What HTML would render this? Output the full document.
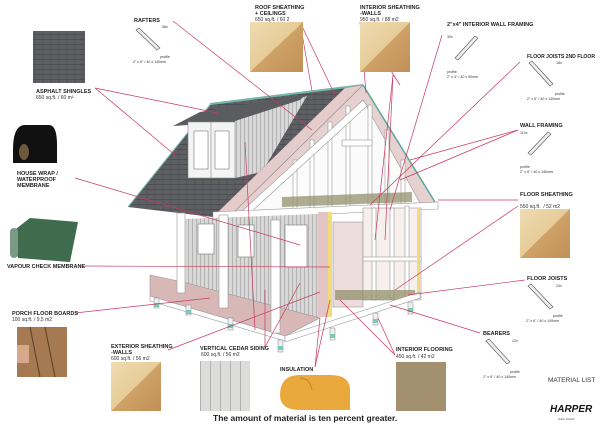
<!DOCTYPE html>
<html><head><meta charset="utf-8"><style>
html,body{margin:0;padding:0;background:#fff;}
svg{display:block;font-family:"Liberation Sans",Arial,sans-serif;}
.b{font-weight:bold;font-size:5.5px;fill:#222;}
.s{font-size:5px;fill:#333;}
.t{font-size:3.6px;fill:#333;}
.l{stroke:#c83a5e;stroke-width:0.7;fill:none;}
</style></head><body>
<svg width="600" height="429" viewBox="0 0 600 429" xmlns="http://www.w3.org/2000/svg">
<defs>
<linearGradient id="ply" x1="0" y1="0" x2="1" y2="1"><stop offset="0" stop-color="#efdcb2"/><stop offset="0.5" stop-color="#e6cc98"/><stop offset="0.5" stop-color="#cfa268"/><stop offset="1" stop-color="#c08f56"/></linearGradient>
<pattern id="sid" width="4" height="10" patternUnits="userSpaceOnUse"><rect width="4" height="10" fill="#d8d8d8"/><line x1="0.5" y1="0" x2="0.5" y2="10" stroke="#9a9a9a" stroke-width="0.6"/></pattern>
<pattern id="shg" width="8" height="5" patternUnits="userSpaceOnUse"><rect width="8" height="5" fill="#5d5f62"/><line x1="0" y1="4.5" x2="8" y2="4.5" stroke="#46484b" stroke-width="0.7"/><line x1="3" y1="0" x2="3" y2="4.5" stroke="#4a4c4f" stroke-width="0.5"/></pattern>
<pattern id="ced" width="10" height="50" patternUnits="userSpaceOnUse"><rect width="10" height="50" fill="#dcdcda"/><line x1="0.5" y1="0" x2="0.5" y2="50" stroke="#a8a8a6" stroke-width="0.8"/></pattern>
</defs>

<!-- HOUSE -->
<polygon points="210,105 345,88 213,217 128,207" fill="url(#shg)"/>
<line x1="210" y1="104" x2="363" y2="85" stroke="#6fb5a8" stroke-width="2"/>
<line x1="128" y1="207" x2="210" y2="105" stroke="#6fb5a8" stroke-width="1"/>
<!-- dormer -->
<polygon points="235,120 307,96 262,172 235,178" fill="url(#sid)"/>
<polygon points="173,126 200,112 305,95 300,100 232,122" fill="#5a5c5f"/>
<rect x="188" y="122" width="47" height="56" fill="#f4f4f4" stroke="#888" stroke-width="0.6"/>
<rect x="194" y="131" width="14" height="38" fill="#fff" stroke="#777" stroke-width="0.6"/>
<rect x="215" y="131" width="14" height="38" fill="#fff" stroke="#777" stroke-width="0.6"/>
<line x1="211" y1="122" x2="211" y2="178" stroke="#888" stroke-width="0.6"/>
<!-- pink strip -->
<polygon points="345,88 363,85 232,215 213,217" fill="#e4cccc" stroke="#b99" stroke-width="0.5"/>
<!-- gable -->
<polygon points="363,85 438,207 232,214" fill="#e6d0d0" stroke="#888" stroke-width="0.6"/>
<polygon points="363,100 420,203 248,211" fill="#fbfbfb" stroke="#999" stroke-width="0.6"/>
<line x1="363" y1="85" x2="438" y2="207" stroke="#5aa898" stroke-width="1.5"/>
<g stroke="#999" stroke-width="0.6" fill="#fff">
<rect x="293" y="160" width="4" height="50"/><rect x="310" y="140" width="4" height="70"/><rect x="328" y="122" width="4" height="88"/><rect x="346" y="106" width="4" height="103"/><rect x="368" y="105" width="4" height="103"/><rect x="385" y="130" width="4" height="78"/><rect x="401" y="160" width="4" height="45"/>
<rect x="342" y="140" width="30" height="6"/>
<polygon points="240,213 363,100 367,106 250,213"/>
</g>
<polygon points="282,197 412,192 412,202 282,207" fill="#8c8a62" opacity="0.7"/>
<polygon points="213,212 438,202 438,209 213,219" fill="#fff" stroke="#999" stroke-width="0.6"/>
<!-- left side wall -->
<polygon points="183,219 318,214 318,318 183,292" fill="url(#sid)"/>
<rect x="198" y="224" width="16" height="30" fill="#fff" stroke="#777" stroke-width="0.6"/>
<rect x="238" y="225" width="16" height="32" fill="#fff" stroke="#777" stroke-width="0.6"/>
<rect x="285" y="225" width="22" height="42" fill="#fff" stroke="#777" stroke-width="0.6"/>
<!-- front wall -->
<rect x="318" y="212" width="10" height="105" fill="#e2c6c6"/>
<rect x="328" y="212" width="4" height="105" fill="#f2dc7a"/>
<rect x="333" y="222" width="30" height="85" fill="#ecdcdc" stroke="#999" stroke-width="0.6"/>
<rect x="363" y="208" width="58" height="92" fill="#f7eeee" stroke="#999" stroke-width="0.6"/>
<g stroke="#999" stroke-width="0.6" fill="#fff">
<rect x="372" y="208" width="4" height="92"/><rect x="390" y="208" width="4" height="90"/><rect x="405" y="206" width="4" height="92"/>
<rect x="363" y="257" width="58" height="4"/>
</g>
<rect x="417" y="208" width="3" height="90" fill="#f2dc7a"/>
<rect x="335" y="290" width="80" height="10" fill="#8c8a62" opacity="0.7"/>
<!-- porch deck -->
<polygon points="150,275 183,282 320,318 285,336 150,296" fill="#d8b7b7" stroke="#999" stroke-width="0.6"/>
<polygon points="150,296 285,336 285,341 150,301" fill="#fff" stroke="#999" stroke-width="0.6"/>
<polygon points="285,336 420,292 420,298 285,342" fill="#fff" stroke="#999" stroke-width="0.6"/>
<g fill="#fff" stroke="#999" stroke-width="0.6">
<rect x="177" y="213" width="8" height="80"/><rect x="219" y="215" width="9" height="93"/><rect x="271" y="220" width="9" height="113"/>
</g>
<g fill="#eee" stroke="#888" stroke-width="0.5">
<rect x="154" y="298" width="5" height="10"/><rect x="186" y="305" width="5" height="10"/><rect x="228" y="318" width="5" height="12"/><rect x="278" y="340" width="5" height="12"/><rect x="330" y="328" width="5" height="12"/><rect x="373" y="313" width="5" height="12"/><rect x="408" y="302" width="5" height="12"/>
</g>
<g fill="#7cc7b8"><rect x="154" y="303" width="5" height="4"/><rect x="186" y="310" width="5" height="4"/><rect x="228" y="324" width="5" height="4"/><rect x="278" y="346" width="5" height="4"/><rect x="330" y="334" width="5" height="4"/><rect x="373" y="319" width="5" height="4"/><rect x="408" y="308" width="5" height="4"/></g>

<!-- LEADER LINES -->
<g class="l">
<line x1="95" y1="88" x2="218" y2="113"/><line x1="95" y1="88" x2="175" y2="155"/>
<line x1="173" y1="21" x2="312" y2="130"/>
<line x1="300" y1="22" x2="335" y2="95"/><line x1="300" y1="22" x2="312" y2="91"/>
<line x1="360" y1="22" x2="366" y2="93"/><line x1="360" y1="22" x2="400" y2="85"/>
<line x1="393" y1="75" x2="375" y2="240"/><line x1="393" y1="75" x2="385" y2="240"/>
<line x1="442" y1="35" x2="390" y2="210"/>
<line x1="520" y1="62" x2="370" y2="205"/>
<line x1="518" y1="130" x2="410" y2="160"/><line x1="518" y1="130" x2="400" y2="180"/>
<line x1="518" y1="200" x2="438" y2="200"/><line x1="518" y1="206" x2="395" y2="290"/>
<line x1="525" y1="280" x2="408" y2="295"/>
<line x1="480" y1="333" x2="390" y2="305"/>
<line x1="395" y1="355" x2="340" y2="300"/><line x1="395" y1="355" x2="378" y2="318"/>
<line x1="315" y1="367" x2="330" y2="300"/><line x1="315" y1="367" x2="320" y2="318"/>
<line x1="265" y1="347" x2="265" y2="290"/><line x1="265" y1="347" x2="300" y2="283"/>
<line x1="168" y1="350" x2="320" y2="292"/>
<line x1="75" y1="313" x2="210" y2="298"/>
<line x1="80" y1="266" x2="330" y2="267"/>
<line x1="75" y1="178" x2="300" y2="245"/>
<line x1="245" y1="142" x2="255" y2="330"/>
</g>

<!-- SWATCHES -->
<rect x="33" y="31" width="52" height="52" fill="url(#shg)"/>
<path d="M13,150 q0,-25 12,-25 h24 q8,0 8,20 v18 h-44z" fill="#111"/>
<ellipse cx="24" cy="152" rx="5" ry="8" fill="#6e5a3e"/>
<polygon points="12,232 30,218 78,222 70,262 18,258" fill="#3e6c4c"/>
<rect x="10" y="228" width="8" height="30" rx="4" fill="#7a9a86"/>
<rect x="17" y="327" width="50" height="50" fill="#a57a52"/>
<g stroke="#5a3e26" stroke-width="1"><line x1="30" y1="327" x2="40" y2="377"/><line x1="45" y1="327" x2="55" y2="377"/></g>
<rect x="17" y="345" width="12" height="18" fill="#d8a88a"/>
<rect x="250" y="22" width="53" height="50" fill="url(#ply)"/>
<rect x="360" y="22" width="50" height="50" fill="url(#ply)"/>
<rect x="520" y="209" width="50" height="49" fill="url(#ply)"/>
<rect x="111" y="362" width="50" height="49" fill="url(#ply)"/>
<rect x="200" y="361" width="50" height="50" fill="url(#ced)"/>
<rect x="396" y="362" width="50" height="49" fill="#a3906f"/>
<path d="M280,395 q0,-20 20,-20 h30 q20,0 20,15 v20 h-50 q-20,0 -20,-15z" fill="#e9a93c"/>
<path d="M300,378 q10,0 12,12" stroke="#c78420" fill="none"/>

<!-- LUMBER -->
<g fill="#eee" stroke="#555" stroke-width="0.6">
<polygon points="136,30 139,28 160,48 157,50"/>
<polygon points="455,58 475,36 478,38 458,60"/>
<polygon points="529,63 532,61 553,84 550,86"/>
<polygon points="528,153 548,132 551,134 531,155"/>
<polygon points="528,286 531,284 553,307 550,309"/>
<polygon points="486,341 489,339 510,362 507,364"/>
</g>

<!-- TEXT -->
<text x="134" y="22" class="b">RAFTERS</text><text x="162" y="28" class="t">58x</text>
<text x="160" y="58" class="t">profile</text><text x="133" y="63" class="t">2" x 6" / 40 x 140mm</text>
<text x="36" y="93" class="b">ASPHALT SHINGLES</text><text x="36" y="99" class="s">650 sq.ft. / 60 m²</text>
<text x="255" y="9" class="b">ROOF SHEATHING</text><text x="255" y="15" class="b">+ CEILINGS</text><text x="255" y="21" class="s">650 sq.ft. / 60 2</text>
<text x="360" y="9" class="b">INTERIOR SHEATHING</text><text x="360" y="15" class="b">-WALLS</text><text x="360" y="21" class="s">950 sq.ft. / 88 m2</text>
<text x="447" y="26" class="b">2"x4" INTERIOR WALL FRAMING</text><text x="447" y="38" class="t">30x</text>
<text x="447" y="73" class="t">profile</text><text x="447" y="78" class="t">2" x 4" / 40 x 90mm</text>
<text x="527" y="58" class="b" textLength="68" lengthAdjust="spacingAndGlyphs">FLOOR JOISTS 2ND FLOOR</text><text x="556" y="64" class="t">18x</text>
<text x="555" y="95" class="t">profile</text><text x="527" y="100" class="t">2" x 6" / 40 x 140mm</text>
<text x="520" y="127" class="b">WALL FRAMING</text><text x="520" y="134" class="t">110x</text>
<text x="520" y="168" class="t">profile</text><text x="520" y="173" class="t">2" x 6" / 40 x 140mm</text>
<text x="520" y="196" class="b">FLOOR SHEATHING</text><text x="520" y="208" class="s">550 sq.ft. &#160;/ 52 m2</text>
<text x="527" y="280" class="b">FLOOR JOISTS</text><text x="556" y="287" class="t">24x</text>
<text x="553" y="317" class="t">profile</text><text x="526" y="322" class="t">2" x 6" / 40 x 140mm</text>
<text x="483" y="335" class="b">BEARERS</text><text x="512" y="342" class="t">12x</text>
<text x="510" y="373" class="t">profile</text><text x="483" y="378" class="t">2" x 6" / 40 x 140mm</text>
<text x="548" y="382" style="font-size:6.5px;fill:#333">MATERIAL LIST</text>
<text x="550" y="412" style="font-size:10px;font-weight:bold;font-style:italic;fill:#111">HARPER</text>
<text x="558" y="420" style="font-size:2.5px;fill:#444">Indoor Outdoor</text>
<text x="396" y="351" class="b">INTERIOR FLOORING</text><text x="396" y="358" class="s">450 sq.ft. / 42 m2</text>
<text x="280" y="371" class="b">INSULATION</text>
<text x="200" y="350" class="b">VERTICAL CEDAR SIDING</text><text x="201" y="356" class="s">600 sq.ft. / 56 m2</text>
<text x="111" y="348" class="b">EXTERIOR SHEATHING</text><text x="111" y="354" class="b">-WALLS</text><text x="111" y="360" class="s">600 sq.ft. / 56 m2</text>
<text x="12" y="315" class="b">PORCH FLOOR BOARDS</text><text x="12" y="321" class="s">100 sq.ft. / 9,5 m2</text>
<text x="7" y="268" class="b">VAPOUR CHECK MEMBRANE</text>
<text x="17" y="175" class="b">HOUSE WRAP /</text><text x="17" y="181" class="b">WATERPROOF</text><text x="17" y="187" class="b">MEMBRANE</text>
<text x="213" y="421" style="font-size:8.5px;font-weight:bold;fill:#222">The amount of material is ten percent greater.</text>
</svg>
</body></html>
